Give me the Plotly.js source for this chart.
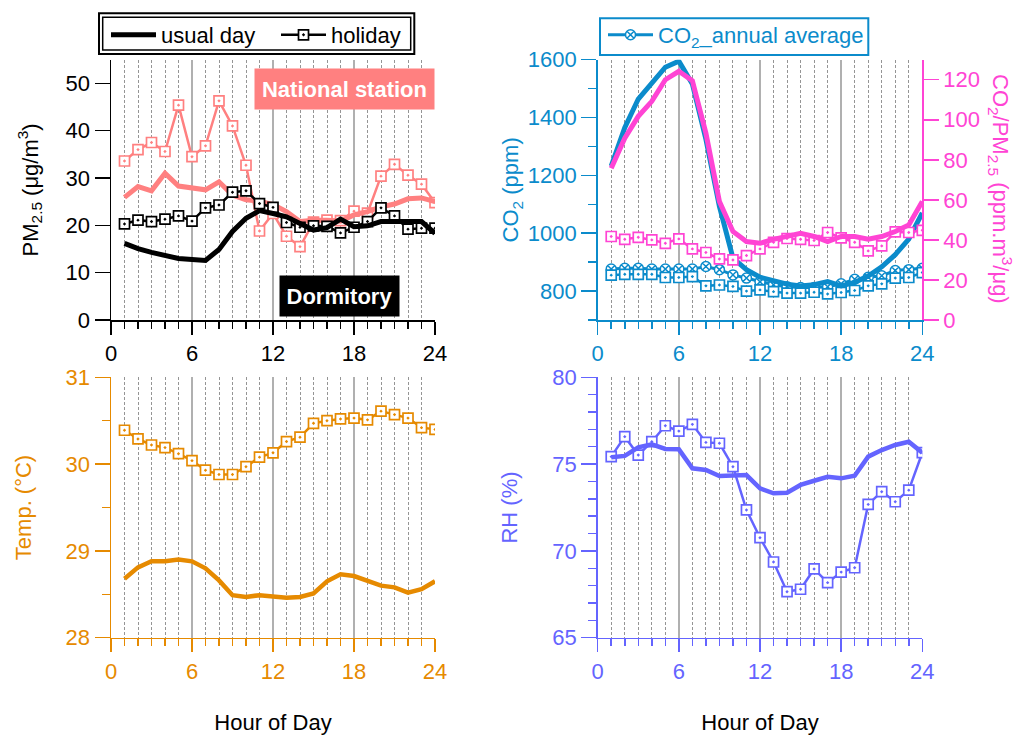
<!DOCTYPE html>
<html>
<head>
<meta charset="utf-8">
<script src="https://cdn.plot.ly/plotly-3.0.1.min.js"></script>
<style>html,body{margin:0;padding:0;background:#fff;}#chart{width:1019px;height:735px;}</style>
</head>
<body>
<div id="chart"></div>
<script>
// ---------- data ----------
const hours = [1,2,3,4,5,6,7,8,9,10,11,12,13,14,15,16,17,18,19,20,21,22,23,24];
const xTicks = [0,6,12,18,24];

// PM2.5 (µg/m3)
const dormUsual   = [16.2,15.1,14.3,13.7,13.0,12.8,12.6,14.9,18.7,21.5,23.1,22.5,21.8,20.4,19.0,19.5,21.3,19.7,19.9,20.8,20.8,20.6,20.8,18.3];
const dormHoliday = [20.3,21.1,20.8,21.3,22.0,20.9,23.7,24.3,27.0,27.3,24.6,23.8,20.6,19.6,19.9,19.8,18.4,19.6,20.8,23.7,22.0,19.2,19.4,19.4];
const natUsual    = [25.9,28.2,27.3,31.0,28.3,27.8,27.5,29.2,26.4,25.4,25.1,24.4,22.9,20.8,21.1,21.1,20.9,22.2,22.9,23.9,24.5,25.6,25.8,25.0];
const natHoliday  = [33.6,36.0,37.5,35.6,45.4,34.5,36.8,46.3,41.0,32.7,18.8,22.5,17.7,15.5,20.7,21.1,21.0,23.0,22.6,30.4,32.9,30.6,28.7,24.8];

// CO2 (ppm)
const co2Usual   = [1232,1365,1464,1521,1574,1595,1516,1325,1093,914,874,848,835,824,818,822,833,818,830,852,884,926,980,1070];
const co2Holiday = [855,858,858,858,847,847,850,818,821,816,800,804,798,793,793,796,790,795,802,818,825,845,847,864];
const co2Annual  = [876,879,879,876,876,876,876,885,874,856,845,832,822,815,812,812,815,825,841,848,853,871,874,879];

// CO2/PM2.5 (ppm.m3/µg)
const ratioUsual   = [75.8,90.8,101.7,109.2,120.0,124.2,119.5,93.3,59.2,44.2,39.2,38.3,40.3,42.0,43.3,41.7,39.2,41.7,41.7,40.3,41.7,44.2,47.5,59.2];
const ratioHoliday = [41.7,40.3,41.3,40.0,38.3,40.5,35.5,33.7,30.5,30.0,32.2,35.5,38.8,40.7,40.3,39.7,43.7,41.0,38.8,34.5,37.0,44.0,43.7,44.8];

// Temperature (°C)
const tempUsual   = [28.68,28.81,28.88,28.88,28.90,28.88,28.80,28.66,28.49,28.47,28.49,28.48,28.46,28.47,28.51,28.65,28.73,28.71,28.66,28.60,28.58,28.52,28.56,28.65];
const tempHoliday = [30.39,30.29,30.22,30.19,30.12,30.04,29.93,29.88,29.88,29.97,30.08,30.13,30.26,30.31,30.47,30.50,30.52,30.53,30.51,30.61,30.57,30.53,30.42,30.40];

// RH (%)
const rhUsual   = [75.39,75.47,75.97,76.14,75.87,75.85,74.76,74.66,74.31,74.33,74.37,73.60,73.32,73.35,73.80,74.04,74.27,74.18,74.33,75.43,75.81,76.10,76.29,75.66];
const rhHoliday = [75.43,76.58,75.52,76.29,77.21,76.90,77.29,76.25,76.20,74.85,72.36,70.76,69.36,67.65,67.79,68.96,68.17,68.78,69.03,72.68,73.41,72.83,73.50,75.66];

// ---------- styling ----------
const W = 1019, H = 735;
const px = v => v / W;
const py = v => 1 - v / H;
const FONT = 'Liberation Sans, Arial, sans-serif';
const FS = 22;

const C = {
  black: '#000000', salmon: '#FF8080', blue: '#0B8BCB', magenta: '#FF44D4',
  orange: '#E68A00', purple: '#6464FF'
};

function sq(color) {
  return {symbol: 'square-dot', size: 10, color: '#ffffff', line: {color: color, width: 1.7}};
}
function thick(color, w) { return {color: color, width: w || 5}; }

const traces = [
  // top-left
  {x: hours, y: natHoliday, xaxis: 'x', yaxis: 'y', mode: 'lines+markers', line: {color: C.salmon, width: 2.5}, marker: sq(C.salmon), showlegend: false, name: 'National station holiday'},
  {x: hours, y: natUsual, xaxis: 'x', yaxis: 'y', mode: 'lines', line: thick(C.salmon), showlegend: false, name: 'National station usual day'},
  {x: hours, y: dormHoliday, xaxis: 'x', yaxis: 'y', mode: 'lines+markers', line: {color: C.black, width: 2.5}, marker: sq(C.black), name: 'holiday', legend: 'legend', legendrank: 2},
  {x: hours, y: dormUsual, xaxis: 'x', yaxis: 'y', mode: 'lines', line: thick(C.black), name: 'usual day', legend: 'legend', legendrank: 1},
  // top-right
  {x: hours, y: co2Annual, xaxis: 'x2', yaxis: 'y2', mode: 'lines+markers', line: {color: C.blue, width: 3}, marker: {symbol: 'circle-x', size: 10, color: '#ffffff', line: {color: C.blue, width: 1.5}}, name: 'CO<sub>2</sub>_annual average', legend: 'legend2'},
  {x: hours, y: co2Holiday, xaxis: 'x2', yaxis: 'y2', mode: 'lines+markers', line: {color: C.blue, width: 2.5}, marker: sq(C.blue), showlegend: false, name: 'CO2 holiday'},
  {x: hours, y: co2Usual, xaxis: 'x2', yaxis: 'y2', mode: 'lines', line: thick(C.blue), showlegend: false, name: 'CO2 usual day'},
  {x: hours, y: ratioHoliday, xaxis: 'x2', yaxis: 'y3', mode: 'lines+markers', line: {color: C.magenta, width: 2.5}, marker: sq(C.magenta), showlegend: false, name: 'CO2/PM2.5 holiday'},
  {x: hours, y: ratioUsual, xaxis: 'x2', yaxis: 'y3', mode: 'lines', line: thick(C.magenta), showlegend: false, name: 'CO2/PM2.5 usual day'},
  // bottom-left
  {x: hours, y: tempHoliday, xaxis: 'x3', yaxis: 'y4', mode: 'lines+markers', line: {color: C.orange, width: 2.5}, marker: sq(C.orange), showlegend: false, name: 'Temp holiday'},
  {x: hours, y: tempUsual, xaxis: 'x3', yaxis: 'y4', mode: 'lines', line: thick(C.orange, 4.5), showlegend: false, name: 'Temp usual day'},
  // bottom-right
  {x: hours, y: rhHoliday, xaxis: 'x4', yaxis: 'y5', mode: 'lines+markers', line: {color: C.purple, width: 2.5}, marker: sq(C.purple), showlegend: false, name: 'RH holiday'},
  {x: hours, y: rhUsual, xaxis: 'x4', yaxis: 'y5', mode: 'lines', line: thick(C.purple, 4.5), showlegend: false, name: 'RH usual day'}
];

const leftDom = [px(111), px(435)];
const rightDom = [px(597.7), px(922.3)];
const topDom = [py(320), py(59.7)];
const botDom = [py(637.7), py(377.3)];

function xAxis(domain, anchor, color, withTitle) {
  const a = {
    domain: domain, anchor: anchor, range: [0, 24], tickvals: xTicks, ticktext: xTicks.map(String),
    ticks: 'outside', ticklen: 13, tickwidth: 1.5, tickcolor: color,
    showline: true, linewidth: 1.5, linecolor: color, zeroline: false,
    tickfont: {family: FONT, size: FS, color: color},
    showgrid: true, gridcolor: '#b0b0b0', gridwidth: 1.4,
    minor: {dtick: 1, tick0: 0, ticks: 'outside', ticklen: 7, tickwidth: 1.5, tickcolor: color,
            showgrid: true, gridcolor: '#8a8a8a', gridwidth: 0.9, griddash: '3px,2px'},
    fixedrange: true
  };
  if (withTitle) a.title = {text: 'Hour of Day', font: {family: FONT, size: FS, color: '#000'}, standoff: 34};
  return a;
}
function yAxis(domain, anchor, range, dtick, color, title, minorDtick, standoff) {
  const a = {
    domain: domain, anchor: anchor, range: range, dtick: dtick, tick0: 0,
    ticks: 'outside', ticklen: 15, tickwidth: 1.5, tickcolor: color,
    showline: true, linewidth: 1.5, linecolor: color, zeroline: false, showgrid: false,
    tickfont: {family: FONT, size: FS, color: color},
    fixedrange: true
  };
  if (title) a.title = {text: title, font: {family: FONT, size: FS, color: color}, standoff: standoff};
  if (minorDtick) a.minor = {dtick: minorDtick, tick0: 0, ticks: 'outside', ticklen: 8, tickwidth: 1.5, tickcolor: color, showgrid: false};
  return a;
}

const layout = {
  width: W, height: H,
  margin: {l: 0, r: 0, t: 0, b: 0},
  paper_bgcolor: '#ffffff', plot_bgcolor: 'rgba(0,0,0,0)',
  font: {family: FONT, size: FS, color: '#000'},
  xaxis: xAxis(leftDom, 'y', C.black, false),
  yaxis: yAxis(topDom, 'x', [0, 55], 10, C.black, 'PM<sub>2.5</sub> (μg/m<sup>3</sup>)', null, 21),
  xaxis2: xAxis(rightDom, 'y2', C.blue, false),
  yaxis2: yAxis(topDom, 'x2', [700, 1600], 200, C.blue, 'CO<sub>2</sub> (ppm)', 100, 3),
  yaxis3: Object.assign(yAxis(topDom, 'x2', [0, 130], 20, C.magenta, null, null, 0), {overlaying: 'y2', side: 'right'}),
  xaxis3: xAxis(leftDom, 'y4', C.orange, true),
  yaxis4: yAxis(botDom, 'x3', [28, 31], 1, C.orange, 'Temp. (°C)', 0.5, 28),
  xaxis4: xAxis(rightDom, 'y5', C.purple, true),
  yaxis5: yAxis(botDom, 'x4', [65, 80], 5, C.purple, 'RH (%)', 1, 28),
  legend: {x: px(106), y: py(14), xanchor: 'left', yanchor: 'top', orientation: 'h', bgcolor: 'rgba(0,0,0,0)',
           borderwidth: 0, font: {family: FONT, size: FS, color: '#000'}, itemwidth: 45, entrywidth: 110, traceorder: 'normal'},
  legend2: {x: px(603), y: py(14), xanchor: 'left', yanchor: 'top', orientation: 'h', bgcolor: 'rgba(0,0,0,0)',
            borderwidth: 0, itemwidth: 45, font: {family: FONT, size: FS, color: C.blue}},
  shapes: [
    {type: 'rect', xref: 'paper', yref: 'paper', x0: px(99), x1: px(414.3), y0: py(54), y1: py(13.3), line: {color: '#000', width: 2}},
    {type: 'rect', xref: 'paper', yref: 'paper', x0: px(102.7), x1: px(410.7), y0: py(50), y1: py(17.3), line: {color: '#000', width: 1.5}},
    {type: 'rect', xref: 'paper', yref: 'paper', x0: px(600), x1: px(868.3), y0: py(55), y1: py(18.3), line: {color: C.blue, width: 2}}
  ],
  annotations: [
    {text: '<b>National station</b>', xref: 'paper', yref: 'paper', x: px(344.5), y: py(89), xanchor: 'center', yanchor: 'middle',
     showarrow: false, bgcolor: C.salmon, width: 179, height: 40, borderpad: 0, font: {family: FONT, size: FS, color: '#fff'}},
    {text: '<b>Dormitory</b>', xref: 'paper', yref: 'paper', x: px(339.5), y: py(296), xanchor: 'center', yanchor: 'middle',
     showarrow: false, bgcolor: '#000', width: 119, height: 40, borderpad: 0, font: {family: FONT, size: FS, color: '#fff'}},
    {text: 'CO<sub>2</sub>/PM<sub>2.5</sub> (ppm.m<sup>3</sup>/μg)', xref: 'paper', yref: 'paper', x: px(1000), y: py(189),
     xanchor: 'center', yanchor: 'middle', textangle: 90, showarrow: false, font: {family: FONT, size: FS, color: C.magenta}}
  ]
};

Plotly.newPlot('chart', traces, layout, {displayModeBar: false, staticPlot: true});
</script>
</body>
</html>
